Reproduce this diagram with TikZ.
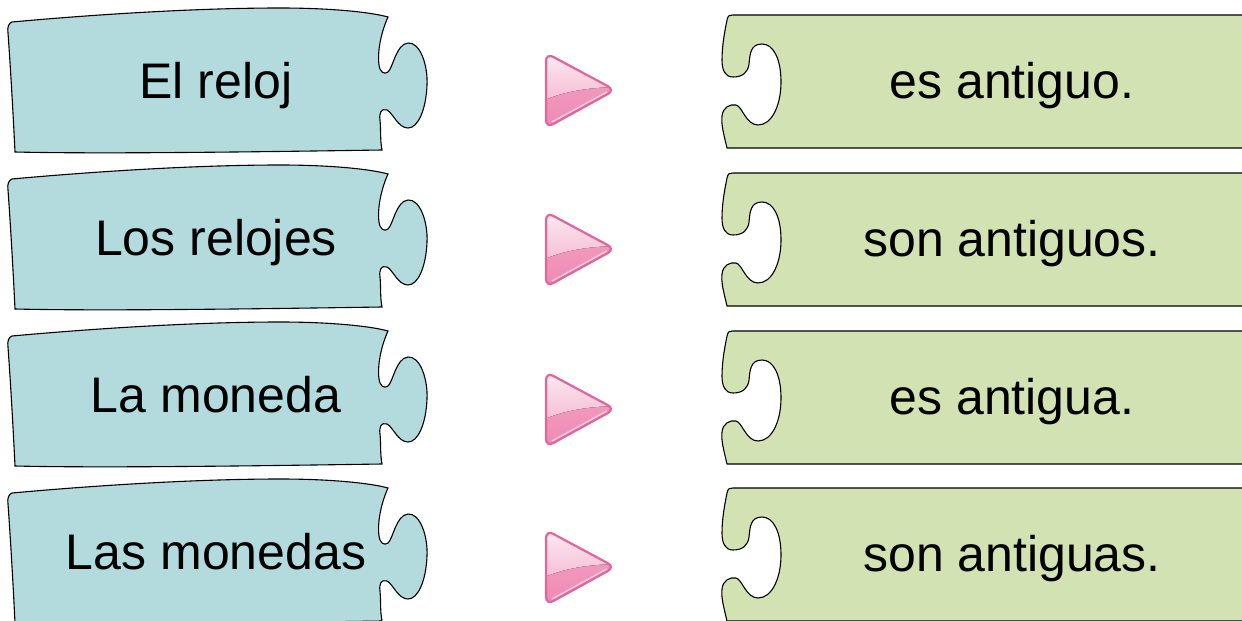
\documentclass[tikz,border=0pt]{standalone}
\usepackage{fontspec}
\setmainfont{Liberation Sans}
\definecolor{leftfill}{HTML}{B3DBDD}
\definecolor{rightfill}{HTML}{D2E2B3}
\definecolor{triborder}{HTML}{E3649C}
\definecolor{trilight}{HTML}{FDEFF5}
\definecolor{trimid}{HTML}{F6BCD4}
\definecolor{trilow}{HTML}{F4A3C4}
\definecolor{tridark}{HTML}{EE8AB4}
\tikzset{
  leftpiece/.style={fill=leftfill, draw=black, line width=1.1pt},
  rightpiece/.style={fill=rightfill, draw=black, line width=1.1pt},
  wordtext/.style={font=\fontsize{50}{60}\selectfont, anchor=base, inner sep=0pt},
  tripath/.style={rounded corners=8pt},
}
\begin{document}
\begin{tikzpicture}[x=1pt,y=-1pt]
\useasboundingbox (0,0) rectangle (1242,621);
% left pieces
\foreach \dy/\nm/\txt in {0/a/El reloj, 157/b/Los relojes, 314/c/La moneda, 471/d/Las monedas}{
  \begin{scope}[shift={(0,\dy)}]
    \draw[leftpiece] (12,22) .. controls (100,14) and (200,8) .. (280,8)
      .. controls (330,8) and (370,12) .. (388,17)
      .. controls (382,30) and (377,50) .. (379,65)
      .. controls (380,72) and (384,75) .. (388,72)
      .. controls (393,68) and (396,44) .. (408,43)
      .. controls (420,42) and (428,65) .. (427,85)
      .. controls (426,110) and (418,128) .. (408,128)
      .. controls (398,128) and (393,113) .. (387,110)
      .. controls (381,108) and (379,113) .. (380,120)
      .. controls (381,130) and (380,140) .. (382,150)
      .. controls (250,152) and (100,154) .. (15,152)
      .. controls (13,110) and (10,60) .. (8,33)
      .. controls (7,27) and (9,23) .. (12,22) -- cycle;
    \node[wordtext] (L\nm) at (216,98) {\txt};
  \end{scope}
}
% right pieces
\foreach \dy/\nm/\txt in {0/a/es antiguo., 158/b/son antiguos., 316/c/es antigua., 473/d/son antiguas.}{
  \begin{scope}[shift={(0,\dy)}]
    \draw[rightpiece] (733,15) -- (1250,15) -- (1250,148) -- (727,148)
      .. controls (724,135) and (721,125) .. (722,116)
      .. controls (723,107) and (730,104) .. (736,105)
      .. controls (742,106) and (746,125) .. (758,125)
      .. controls (772,125) and (781,105) .. (781,82)
      .. controls (781,58) and (773,44) .. (762,44)
      .. controls (750,44) and (750,55) .. (749,64)
      .. controls (748,72) and (743,77) .. (733,77)
      .. controls (725,77) and (722,70) .. (722,60)
      .. controls (722,45) and (725,30) .. (727,20)
      .. controls (728,15) and (730,15) .. (733,15) -- cycle;
    \node[wordtext] (R\nm) at (1012,98) {\txt};
  \end{scope}
}
% triangles
\foreach \dy/\nm in {0/a, 159/b, 319/c, 477/d}{
  \begin{scope}[shift={(0,\dy)}]
    \fill[tripath, top color=trilow, bottom color=tridark] (546,53) -- (615,90) -- (546,128) -- cycle;
    \begin{scope}
      \clip[tripath] (546,53) -- (615,90) -- (546,128) -- cycle;
      \fill[top color=trilight, bottom color=trimid]
        (540,48) -- (620,48) -- (620,87) .. controls (595,87) and (565,90) .. (540,102) -- cycle;
      \draw[white, opacity=0.55, line width=1.5pt] (552,122) -- (607,92);
    \end{scope}
    \draw[tripath, triborder, line width=2.2pt] (546,53) -- (615,90) -- (546,128) -- cycle;
  \end{scope}
}
\end{tikzpicture}
\end{document}
